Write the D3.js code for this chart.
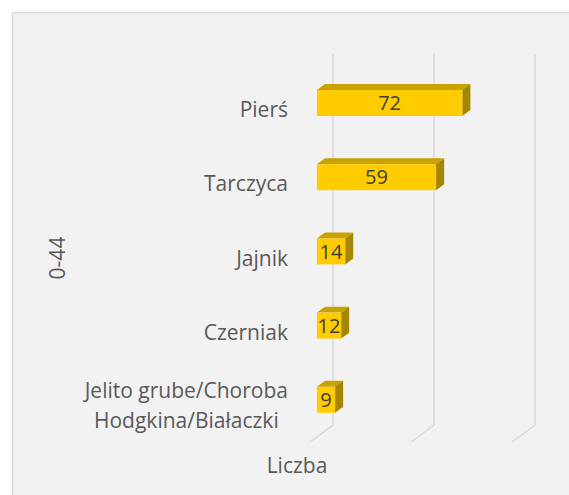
<!DOCTYPE html>
<html>
<head>
  <meta charset="utf-8">
  <title>0-44</title>
  <script src="https://cdnjs.cloudflare.com/ajax/libs/d3/7.8.5/d3.min.js"></script>
  <style>
    body { margin: 0; background: #fff; }
    text { font-family: "Open Sans", sans-serif; }
  </style>
</head>
<body>
<script>
var categories = ["Pierś", "Tarczyca", "Jajnik", "Czerniak", "Jelito grube/Choroba\nHodgkina/Białaczki"];
var values = [72, 59, 14, 12, 9];
var gridTicks = [0, 50, 100];
var groupTitle = "0-44";
var valueTitle = "Liczba";

var width = 569, height = 495;
var labelSize = 21;

// 3d depth of the plot box (front plane -> back wall)
var depthX = 23, depthY = -17;
var barFront = 0.3, barBack = 0.65;

var svg = d3.select("body").append("svg")
  .attr("width", width).attr("height", height);

// chart area
svg.append("rect")
  .attr("x", 12.5).attr("y", 12.5)
  .attr("width", width).attr("height", height)
  .attr("fill", "#f2f2f2")
  .attr("stroke", "#d9d9d9")
  .attr("stroke-width", 1.5);

// scales on the front plane
var x = d3.scaleLinear().domain([0, 100]).range([310, 512]);
var y = d3.scaleBand().domain(categories).range([71, 442])
  .paddingInner(0.65).paddingOuter(0.325);

// gridlines: back wall + floor
var grid = svg.append("g");
gridTicks.forEach(function(t) {
  var bx = x(t) + depthX;
  grid.append("path")
    .attr("d", "M" + bx + "," + (71 + depthY) + "L" + bx + "," + (442 + depthY) + "L" + x(t) + ",442")
    .attr("fill", "none")
    .attr("stroke", "#d9d9d9")
    .attr("stroke-width", 1.5);
});

var bars = svg.append("g");
categories.forEach(function(c, i) {
  var v = values[i];
  var x0 = x(0) + barFront * depthX;
  var x1 = x(v) + barFront * depthX;
  var y0 = y(c) + barFront * depthY;
  var h = y.bandwidth();
  var dx = (barBack - barFront) * depthX, dy = (barBack - barFront) * depthY;

  // top face
  bars.append("path")
    .attr("d", "M" + x0 + "," + y0 + "L" + (x0 + dx) + "," + (y0 + dy) +
               "L" + (x1 + dx) + "," + (y0 + dy) + "L" + x1 + "," + y0 + "Z")
    .attr("fill", "#c9a200");
  // side face
  bars.append("path")
    .attr("d", "M" + x1 + "," + y0 + "L" + (x1 + dx) + "," + (y0 + dy) +
               "L" + (x1 + dx) + "," + (y0 + h + dy) + "L" + x1 + "," + (y0 + h) + "Z")
    .attr("fill", "#a58600");
  // front face
  bars.append("rect")
    .attr("x", x0).attr("y", y0)
    .attr("width", x1 - x0).attr("height", h)
    .attr("fill", "#ffcc00");

  bars.append("text")
    .attr("x", (x0 + x1) / 2)
    .attr("y", y0 + h / 2)
    .attr("dy", "0.36em")
    .attr("text-anchor", "middle")
    .attr("font-size", 20)
    .attr("fill", "#404040")
    .text(v);
});

// category labels
var labels = svg.append("g");
categories.forEach(function(c) {
  var cy = y(c) + y.bandwidth() / 2;
  var lines = c.split("\n");
  var rightX = x(0) - 22;
  if (lines.length == 1) {
    labels.append("text")
      .attr("x", rightX).attr("y", cy + 9)
      .attr("text-anchor", "end")
      .attr("font-size", labelSize)
      .attr("fill", "#595959")
      .text(c);
  } else {
    var first = labels.append("text")
      .attr("x", rightX).attr("y", cy - 7)
      .attr("text-anchor", "end")
      .attr("font-size", labelSize)
      .attr("fill", "#595959")
      .text(lines[0]);
    var w = first.node().getComputedTextLength();
    labels.append("text")
      .attr("x", rightX - w / 2).attr("y", cy + 23)
      .attr("text-anchor", "middle")
      .attr("font-size", labelSize)
      .attr("fill", "#595959")
      .text(lines[1]);
  }
});

// axis titles
svg.append("text")
  .attr("transform", "translate(65,258) rotate(-90)")
  .attr("text-anchor", "middle")
  .attr("font-size", labelSize)
  .attr("fill", "#595959")
  .text(groupTitle);

svg.append("text")
  .attr("x", 297).attr("y", 473)
  .attr("text-anchor", "middle")
  .attr("font-size", labelSize)
  .attr("fill", "#595959")
  .text(valueTitle);
</script>
</body>
</html>
